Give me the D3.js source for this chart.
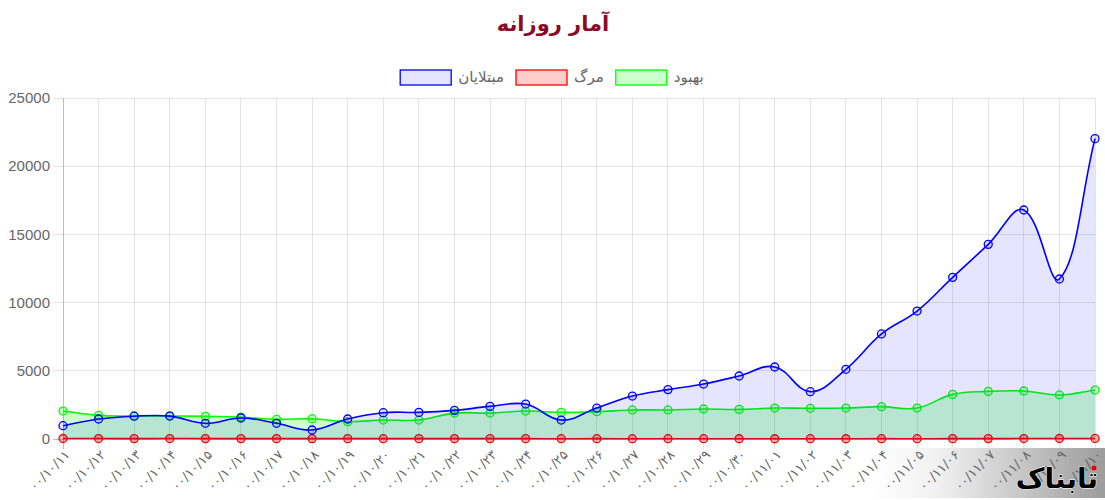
<!DOCTYPE html>
<html lang="fa">
<head>
<meta charset="utf-8">
<script src="https://cdn.jsdelivr.net/npm/d3@7"></script>
<style>
  html, body { margin: 0; padding: 0; background: #fff; }
  svg { display: block; }
</style>
</head>
<body>
<svg id="chart" width="1105" height="500"></svg>
<script>
// آمار روزانه — line chart (Chart.js look) redrawn with d3

const DATES = [
  '۰۰/۱۰/۱۱', '۰۰/۱۰/۱۲', '۰۰/۱۰/۱۳', '۰۰/۱۰/۱۴', '۰۰/۱۰/۱۵', '۰۰/۱۰/۱۶',
  '۰۰/۱۰/۱۷', '۰۰/۱۰/۱۸', '۰۰/۱۰/۱۹', '۰۰/۱۰/۲۰', '۰۰/۱۰/۲۱', '۰۰/۱۰/۲۲',
  '۰۰/۱۰/۲۳', '۰۰/۱۰/۲۴', '۰۰/۱۰/۲۵', '۰۰/۱۰/۲۶', '۰۰/۱۰/۲۷', '۰۰/۱۰/۲۸',
  '۰۰/۱۰/۲۹', '۰۰/۱۰/۳۰', '۰۰/۱۱/۰۱', '۰۰/۱۱/۰۲', '۰۰/۱۱/۰۳', '۰۰/۱۱/۰۴',
  '۰۰/۱۱/۰۵', '۰۰/۱۱/۰۶', '۰۰/۱۱/۰۷', '۰۰/۱۱/۰۸', '۰۰/۱۱/۰۹', '۰۰/۱۱/۱۰'
];
const INFECTED = [975, 1466, 1670, 1680, 1150, 1540, 1150, 660, 1466, 1930,
  1950, 2100, 2390, 2560, 1390, 2270, 3150, 3620, 4030, 4620,
  5280, 3470, 5110, 7700, 9380, 11850, 14270, 16790, 11730, 22020];
const RECOVERED = [2050, 1730, 1690, 1690, 1660, 1610, 1440, 1490, 1270, 1390,
  1390, 1900, 1900, 2050, 1950, 2000, 2130, 2130, 2200, 2170,
  2270, 2250, 2270, 2370, 2270, 3270, 3490, 3520, 3230, 3590];
const DEATHS = [36, 34, 29, 33, 30, 28, 27, 30, 25, 24,
  26, 27, 28, 25, 21, 24, 23, 22, 21, 20,
  19, 22, 20, 24, 22, 26, 29, 33, 38, 41];
const Y_TICKS = [0, 5000, 10000, 15000, 20000, 25000];
const TITLE = 'آمار روزانه';

// legend order, right to left as in the picture
const SERIES = [
  { name: 'بهبود', values: RECOVERED, line: '#00ff00', fill: 'rgba(0,255,0,0.2)', pt: 'rgba(0,255,0,0.2)' },
  { name: 'مرگ', values: DEATHS, line: '#ff0000', fill: 'rgba(255,0,0,0.2)', pt: 'rgba(255,0,0,0.3)' },
  { name: 'مبتلایان', values: INFECTED, line: '#0000ff', fill: 'rgba(0,0,255,0.1)', pt: 'rgba(0,0,255,0.1)' }
];

const W = 1105, H = 500;
const L = 63, R = 1095, T = 98, B = 439;
const FA = '"DejaVu Sans", sans-serif';
const LAT = '"Liberation Sans", Arial, sans-serif';

const svg = d3.select('#chart');
const x = d3.scalePoint().domain(DATES).range([L, R]);
const y = d3.scaleLinear().domain([0, 25000]).range([B, T]);

// Chart.js style spline (tension 0.4), control points capped to chart area
function splinePath(pts, t = 0.4) {
  const cps = pts.map((p, i) => {
    const a = pts[i - 1] || p, c = pts[i + 1] || p;
    const d01 = Math.hypot(p[0] - a[0], p[1] - a[1]);
    const d12 = Math.hypot(c[0] - p[0], c[1] - p[1]);
    let s01 = d01 / (d01 + d12), s12 = d12 / (d01 + d12);
    if (!isFinite(s01)) s01 = 0;
    if (!isFinite(s12)) s12 = 0;
    const fa = t * s01, fb = t * s12;
    const cap = v => Math.max(T, Math.min(B, v));
    return {
      prev: [p[0] - fa * (c[0] - a[0]), cap(p[1] - fa * (c[1] - a[1]))],
      next: [p[0] + fb * (c[0] - a[0]), cap(p[1] + fb * (c[1] - a[1]))]
    };
  });
  let d = `M${pts[0][0]},${pts[0][1]}`;
  for (let i = 1; i < pts.length; i++) {
    const c1 = cps[i - 1].next, c2 = cps[i].prev;
    d += `C${c1[0]},${c1[1]} ${c2[0]},${c2[1]} ${pts[i][0]},${pts[i][1]}`;
  }
  return d;
}

// grid
const grid = svg.append('g');
grid.selectAll('line.v').data(DATES.slice(1)).join('line')
  .attr('x1', d => x(d)).attr('x2', d => x(d))
  .attr('y1', T).attr('y2', B + 10)
  .attr('stroke', 'rgba(0,0,0,0.1)').attr('stroke-width', 1)
  .attr('shape-rendering', 'crispEdges');
grid.selectAll('line.h').data(Y_TICKS).join('line')
  .attr('x1', L - 10).attr('x2', R)
  .attr('y1', d => y(d)).attr('y2', d => y(d))
  .attr('stroke', d => d === 0 ? 'rgba(0,0,0,0.25)' : 'rgba(0,0,0,0.1)')
  .attr('shape-rendering', 'crispEdges');
grid.append('line')
  .attr('x1', L).attr('x2', L).attr('y1', T).attr('y2', B + 10)
  .attr('stroke', 'rgba(0,0,0,0.25)').attr('shape-rendering', 'crispEdges');

// y labels
svg.append('g').selectAll('text').data(Y_TICKS).join('text')
  .attr('x', L - 13).attr('y', d => y(d))
  .attr('dy', '0.35em').attr('text-anchor', 'end')
  .attr('font-family', LAT).attr('font-size', 15).attr('fill', '#666')
  .text(d => d);

// logo backdrop (drawn under the labels)
const defs = svg.append('defs');
const lg = defs.append('linearGradient').attr('id', 'logoGrad');
lg.append('stop').attr('offset', '0%').attr('stop-color', '#fff');
lg.append('stop').attr('offset', '30%').attr('stop-color', '#f0f0f0');
lg.append('stop').attr('offset', '100%').attr('stop-color', '#9c9c9c');
svg.append('rect').attr('x', 870).attr('y', 448).attr('width', W - 870).attr('height', 50)
  .attr('fill', 'url(#logoGrad)');

// x labels
svg.append('g').selectAll('text').data(DATES).join('text')
  .attr('transform', d => `translate(${x(d) + 2},${B + 11}) rotate(-45)`)
  .attr('text-anchor', 'end').attr('dy', '0.6em')
  .attr('font-family', FA).attr('font-size', 13).attr('fill', '#666')
  .text(d => d);

// series: green, red, then blue on top
const plot = svg.append('g');
SERIES.forEach(s => {
  const pts = s.values.map((v, i) => [x(DATES[i]), y(v)]);
  const line = splinePath(pts);
  plot.append('path')
    .attr('d', line + `L${pts[pts.length - 1][0]},${y(0)}L${pts[0][0]},${y(0)}Z`)
    .attr('fill', s.fill);
  plot.append('path').attr('d', line)
    .attr('fill', 'none').attr('stroke', s.line).attr('stroke-width', 1.6);
  plot.append('g').selectAll('circle').data(pts).join('circle')
    .attr('cx', p => p[0]).attr('cy', p => p[1]).attr('r', 4)
    .attr('fill', s.pt).attr('stroke', s.line).attr('stroke-width', 1.3);
});

// title
svg.append('text').attr('x', 553).attr('y', 31).attr('text-anchor', 'middle')
  .attr('font-family', FA).attr('font-weight', 'bold').attr('font-size', 21)
  .attr('fill', '#8b0a28').text(TITLE);

// legend, laid out right to left
const leg = svg.append('g');
const items = SERIES.map(s => {
  const g = leg.append('g');
  const tx = g.append('text').attr('font-family', FA).attr('font-size', 15)
    .attr('fill', '#666').attr('y', 77).attr('dy', '0.35em').text(s.name);
  return { s, g, tx, tw: tx.node().getComputedTextLength() };
});
const BOXW = 51, GAP = 7, ITEMGAP = 12;
const total = d3.sum(items, d => BOXW + GAP + d.tw) + ITEMGAP * (items.length - 1);
let cur = 552 + total / 2;
items.forEach(it => {
  const textX = cur - it.tw;
  it.tx.attr('x', textX);
  it.g.insert('rect', 'text')
    .attr('x', textX - GAP - BOXW).attr('y', 70).attr('width', BOXW).attr('height', 15)
    .attr('fill', it.s.fill).attr('stroke', it.s.line).attr('stroke-width', 1.3);
  cur = textX - GAP - BOXW - ITEMGAP;
});

// site logo
svg.append('text').attr('x', 1098).attr('y', 488).attr('text-anchor', 'end')
  .attr('font-family', FA).attr('font-weight', 'bold').attr('font-size', 28)
  .attr('fill', '#000').attr('stroke', '#fff').attr('stroke-width', 1)
  .attr('paint-order', 'stroke').text('تابناک');
svg.append('circle').attr('cx', 1094).attr('cy', 468).attr('r', 2.5).attr('fill', '#e00');
</script>
</body>
</html>
